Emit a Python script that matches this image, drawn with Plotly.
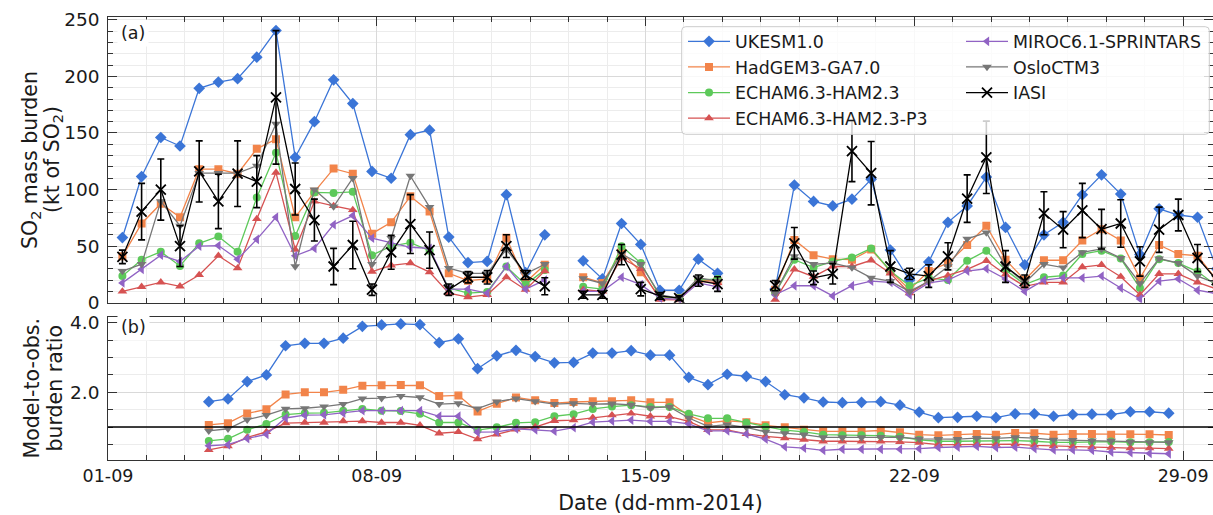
import plotly.graph_objects as go
import pandas as pd

# ---------------- data ----------------
times_a = pd.date_range("2014-09-01 09:00", periods=58, freq="12h")   # panel (a) sampling
times_b = pd.date_range("2014-09-03 15:00", periods=51, freq="12h")   # panel (b) sampling
N = None

ukesm_a = [57.6, 111.5, 146, 138.5, 189.5, 195, 198, 217, 240.5, 128.5,
           160, 197, 176, 116, 110, 148.5, 152.5, 58, 35.5, 36.5,
           95.5, 26.5, 60, N, 37, 21, 70, 51.5, 11, 11,
           38.5, 26, N, N, 12, 104, 89.5, 85.5, 91.5, 109,
           46.5, 20, 36, 71, 85.5, 111, 66.5, 33.5, 60, 71,
           95.5, 113, 96, 42.5, 83, 77.5, 75.5, 30]
hadgem_a = [41, 70, 87.5, 75.5, 118, 118, 114, 136, 144.5, 75.5,
            98, 118.5, 114, 61, 71, 94, 80.5, 26, 19.5, 21,
            57.5, 18, 33.5, N, 22.5, 17.5, 45, 27, 5, 4,
            20, 19, N, N, 11.5, 55.5, 42, 38.5, 38, 47,
            28, 11.5, 28, 35, 51, 68, 38, 20, 37.5, 37.5,
            55, 65, 55, 21.5, 51, 43, 41.5, 20]
echam_a = [23.5, 38, 45, 32.5, 52.5, 58.5, 45, 93, 132.5, 59,
           97.5, 97, 98, 42, 50, 53, 46, 13, 8.5, 9.5,
           32, 16, 29, N, 14, 12, 50, 35, 5.5, 4,
           20, 21, N, N, 8.5, 38, 31, 36.5, 40, 48,
           28, 15, 22, 20, 37, 46, 29, 16, 22.5, 24,
           43, 46, 39, 13, 38.5, 35, 27.5, 15]
echamp3_a = [10, 14, 18, 14.5, 24.5, 41.5, 30.5, 74, 115, 47,
             89.5, 85.5, 82, 27.5, 33, 35, 27, 8.5, 5, 7,
             22.5, 11.5, 28, N, 11.5, 10, 39.5, 30, 2.7, 2.5,
             19, 17.5, N, N, 2.7, 29.5, 23, 32, 32, 37.5,
             26, 8.5, 19, 24, 29.5, 37, 25, 14.5, 18, 18,
             31.5, 33.5, 23, 7, 25.5, 25.5, 18, 12]
miroc_a = [17.5, 29.5, 42, 36.5, 50, 50.5, 38.5, 56, 75.5, 41.5,
           48, 69, 77, 57, 53, 49, 48, 12, 12, 8.5,
           32, 12, 20, N, 10, 10, 22.5, 16, 4, 3,
           17.5, 14, N, N, 7, 15, 15, 6, 15, 19,
           18, 7, 17.5, 20, 28, 30, 21, 10, 20, 22,
           22, 23.5, 13, 3.3, 19, 21, 11, 8]
oslo_a = [28, 34, 89.5, 68, 114.5, 114.5, 114.5, 121, 158, 32,
          100, 85, 110, 34, 57, 112, 84.5, 30.5, 26, 26,
          47, 25.5, 34, N, 21.5, 17, 43, 34, 7, 4,
          22, 19, N, N, 8.5, 41, 34, 35, 31, 22,
          19, 10, 19, 32, 56.5, 62, 32, 17.5, 34, 31,
          44.5, 47.5, 39.5, 17, 39, 35, 23.5, 17]
iasi_a = [40.5, 80.5, 100, 50, 116, 89.5, 114, 107, 181.5, 100.5,
          73, 32, 51, 11.5, 44.5, 69.5, 46.5, 11.5, 22.5, 22.5,
          50, 24.5, 14.5, N, 7, 7, 42.5, 12, 6, 4,
          19.5, 16.5, N, N, 15, 52.5, 22, 25.5, 134, 114.5,
          32, 25.5, 23.5, 41, 92, 128.5, 32, 19, 79, 64.5,
          81.5, 65, 70, 36.5, 64.5, 77.5, 39.5, 20]
iasi_err = [6, 25, 27, 18, 27, 24, 29, 23, 59, 23,
            18.5, 16, 21, 5, 15, 26, 16, 5, 5, 6,
            10, 4, 7.5, N, 3, 3, 9, 6, 3, 2,
            5, 6.5, N, N, 4.5, 14, 6, 9, 27, 28,
            14, 5, 10, 12, 21, 32, 14, 5.5, 19, 16,
            24, 17.5, 21, 13, 20, 14, 12, 8]

ukesm_b = [1.73, 1.81, 2.31, 2.5, 3.34, 3.41, 3.41, 3.56, 3.90, 3.94,
           3.97, 3.95, 3.43, 3.54, 2.68, 3.05, 3.21, 3.03, 2.85, 2.86,
           3.13, 3.13, 3.20, 3.07, 3.07, 2.43, 2.22, 2.52, 2.46, 2.31,
           1.93, 1.84, 1.72, 1.70, 1.71, 1.73, 1.63, 1.43, 1.27, 1.28,
           1.31, 1.27, 1.38, 1.38, 1.31, 1.36, 1.37, 1.36, 1.44, 1.44, 1.40]
hadgem_b = [1.06, 1.11, 1.39, 1.51, 1.94, 2.0, 2.0, 2.07, 2.19, 2.20,
            2.21, 2.20, 1.89, 1.91, 1.45, 1.67, 1.85, 1.77, 1.69, 1.72,
            1.74, 1.74, 1.77, 1.71, 1.71, 1.33, 1.12, 1.18, 1.14, 1.05,
            0.99, 0.92, 0.875, 0.875, 0.875, 0.90, 0.85, 0.78, 0.76, 0.77,
            0.80, 0.78, 0.83, 0.82, 0.78, 0.80, 0.80, 0.78, 0.79, 0.79, 0.77]
echam_b = [0.60, 0.66, 0.92, 1.09, 1.36, 1.40, 1.41, 1.47, 1.52, 1.47,
           1.46, 1.38, 1.13, 1.13, 0.91, 0.99, 1.12, 1.14, 1.31, 1.37,
           1.52, 1.59, 1.63, 1.58, 1.58, 1.38, 1.25, 1.25, 1.12, 1.01,
           0.91, 0.86, 0.78, 0.76, 0.76, 0.75, 0.72, 0.63, 0.59, 0.59,
           0.60, 0.59, 0.61, 0.59, 0.56, 0.56, 0.57, 0.58, 0.56, 0.56, 0.57]
echamp3_b = [0.34, 0.45, 0.70, 0.86, 1.11, 1.13, 1.13, 1.17, 1.17, 1.13,
             1.13, 1.05, 0.82, 0.86, 0.65, 0.79, 0.93, 1.0, 1.18, 1.20,
             1.27, 1.34, 1.39, 1.31, 1.30, 1.16, 0.92, 0.92, 0.80, 0.73,
             0.68, 0.64, 0.59, 0.59, 0.59, 0.59, 0.57, 0.55, 0.49, 0.49,
             0.50, 0.49, 0.51, 0.47, 0.45, 0.44, 0.42, 0.41, 0.39, 0.39, 0.38]
miroc_b = [0.46, 0.49, 0.67, 0.79, 1.26, 1.34, 1.35, 1.40, 1.47, 1.47,
           1.47, 1.47, 1.31, 1.31, 0.85, 0.86, 0.95, 0.92, 0.88, 0.98,
           1.14, 1.17, 1.20, 1.16, 1.16, 1.09, 0.89, 0.89, 0.80, 0.65,
           0.43, 0.39, 0.33, 0.36, 0.36, 0.36, 0.36, 0.375, 0.41, 0.42,
           0.44, 0.41, 0.42, 0.38, 0.34, 0.34, 0.33, 0.28, 0.26, 0.24, 0.23]
oslo_b = [0.89, 0.95, 1.21, 1.34, 1.52, 1.54, 1.59, 1.66, 1.82, 1.83,
          1.89, 1.85, 1.66, 1.68, 1.53, 1.73, 1.82, 1.74, 1.66, 1.68,
          1.66, 1.67, 1.64, 1.55, 1.58, 1.26, 1.02, 1.07, 0.99, 0.86,
          0.82, 0.78, 0.70, 0.70, 0.70, 0.71, 0.70, 0.66, 0.65, 0.65,
          0.68, 0.67, 0.70, 0.68, 0.63, 0.62, 0.61, 0.60, 0.57, 0.56, 0.56]

models = ["UKESM1.0", "HadGEM3-GA7.0", "ECHAM6.3-HAM2.3", "ECHAM6.3-HAM2.3-P3",
          "MIROC6.1-SPRINTARS", "OsloCTM3"]
obs_name = "IASI"
tick_dates = ["2014-09-01", "2014-09-08", "2014-09-15", "2014-09-22", "2014-09-29"]
ytitle_a = ["SO<sub>2</sub> mass burden", "(kt of SO<sub>2</sub>)"]
ytitle_b = ["Model-to-obs.", "burden ratio"]

# ---------------- styles ----------------
colors = ["#3b75d7", "#f2844a", "#5dc95a", "#d65252", "#9163c4", "#777777"]
symbols = ["diamond", "square", "circle", "triangle-up", "triangle-left", "triangle-down"]
sizes = [9, 8, 8, 8.5, 8.5, 8.5]
legend_of = ["legend", "legend", "legend", "legend", "legend2", "legend2"]
FONT = "DejaVu Sans"
TXT = "#1a1a1a"

W, H = 1213, 515
ML, MR, MT, MB = 108, 0, 17, 55
PW, PH = W - ML - MR, H - MT - MB


def px_x(px):
    return (px - ML) / PW


def px_y(py):
    return (H - MB - py) / PH


fig = go.Figure()
series_a = [ukesm_a, hadgem_a, echam_a, echamp3_a, miroc_a, oslo_a]
series_b = [ukesm_b, hadgem_b, echam_b, echamp3_b, miroc_b, oslo_b]

for i, name in enumerate(models):
    fig.add_trace(go.Scatter(
        x=times_a, y=series_a[i], name=name, mode="lines+markers",
        line=dict(color=colors[i], width=1.3),
        marker=dict(symbol=symbols[i], size=sizes[i], color=colors[i]),
        xaxis="x2", yaxis="y2", legend=legend_of[i]))

fig.add_trace(go.Scatter(
    x=times_a, y=iasi_a, name=obs_name, mode="lines+markers",
    line=dict(color="black", width=1.3),
    marker=dict(symbol="x-thin", size=10, color="black",
                line=dict(color="black", width=1.8)),
    error_y=dict(type="data", array=iasi_err, color="black", thickness=1.6, width=3.5),
    xaxis="x2", yaxis="y2", legend="legend2"))

for i, name in enumerate(models):
    fig.add_trace(go.Scatter(
        x=times_b, y=series_b[i], name=name, mode="lines+markers",
        line=dict(color=colors[i], width=1.3),
        marker=dict(symbol=symbols[i], size=sizes[i], color=colors[i]),
        xaxis="x", yaxis="y", showlegend=False))

x_range = ["2014-09-01 00:00", "2014-09-29 18:40"]
DAY = 86400000
frame = "#333333"

xcommon = dict(
    type="date", range=x_range, tickmode="array", tickvals=tick_dates,
    tickformat="%d-%m", ticks="inside", ticklen=9, tickwidth=1.2, tickcolor=frame,
    showline=True, linecolor=frame, linewidth=1.2, mirror="allticks",
    showgrid=True, gridcolor="#d9d9d9", gridwidth=1,
    minor=dict(dtick=DAY, tick0="2014-09-01", ticks="inside", ticklen=5,
               tickwidth=1, tickcolor=frame, showgrid=True, gridcolor="#ececec"),
    tickfont=dict(family=FONT, size=17.5, color=TXT), zeroline=False)

ycommon = dict(
    ticks="inside", ticklen=9, tickwidth=1.2, tickcolor=frame,
    showline=True, linecolor=frame, linewidth=1.2, mirror="allticks",
    showgrid=True, gridcolor="#d9d9d9", gridwidth=1, zeroline=False,
    ticksuffix="\u2009",
    tickfont=dict(family=FONT, size=18.5, color=TXT))

top_dom = [px_y(302.7), 1.0]
bot_dom = [0.0, px_y(317.3)]

fig.update_layout(
    width=W, height=H, margin=dict(l=ML, r=MR, t=MT, b=MB),
    paper_bgcolor="white", plot_bgcolor="white",
    font=dict(family=FONT, color=TXT),
    xaxis=dict(**xcommon, domain=[0, 1], anchor="y",
               title=dict(text="Date (dd-mm-2014)", font=dict(family=FONT, size=20.5, color=TXT),
                          standoff=13)),
    xaxis2=dict(**xcommon, domain=[0, 1], anchor="y2", showticklabels=False, matches="x"),
    yaxis=dict(**ycommon, domain=bot_dom, anchor="x", range=[0.05, 4.16],
               tick0=0, dtick=2, tickformat=".1f",
               minor=dict(dtick=0.5, tick0=0, ticks="inside", ticklen=5, tickwidth=1,
                          tickcolor=frame, showgrid=True, gridcolor="#ececec")),
    yaxis2=dict(**ycommon, domain=top_dom, anchor="x2", range=[0, 252.5],
                tick0=0, dtick=50,
                minor=dict(dtick=10, tick0=0, ticks="inside", ticklen=5, tickwidth=1,
                           tickcolor=frame, showgrid=True, gridcolor="#ececec")),
    legend=dict(x=px_x(683), y=px_y(23.5), xanchor="left", yanchor="top",
                bgcolor="rgba(0,0,0,0)", borderwidth=0, itemwidth=42,
                font=dict(family=FONT, size=17.4, color=TXT), tracegroupgap=0),
    legend2=dict(x=px_x(961), y=px_y(23.5), xanchor="left", yanchor="top",
                 bgcolor="rgba(0,0,0,0)", borderwidth=0, itemwidth=42,
                 font=dict(family=FONT, size=17.4, color=TXT), tracegroupgap=0),
    showlegend=True,
)

# reference line at ratio 1
fig.add_shape(type="line", xref="x domain", yref="y", x0=0, x1=1, y0=1, y1=1,
              line=dict(color="black", width=1.5), layer="above")

# legend frame (rounded)
bx0, bx1 = px_x(681.7), px_x(1209.3)
by0, by1 = px_y(134.3), px_y(26.7)
rx, ry = 4 / PW, 4 / PH
path = (f"M{bx0+rx},{by1} L{bx1-rx},{by1} Q{bx1},{by1} {bx1},{by1-ry} "
        f"L{bx1},{by0+ry} Q{bx1},{by0} {bx1-rx},{by0} L{bx0+rx},{by0} "
        f"Q{bx0},{by0} {bx0},{by0+ry} L{bx0},{by1-ry} Q{bx0},{by1} {bx0+rx},{by1} Z")
fig.add_shape(type="path", path=path, xref="paper", yref="paper",
              fillcolor="rgba(255,255,255,0.8)", line=dict(color="#cccccc", width=1),
              layer="above")

# panel labels
for lab, cy in [("(a)", 33), ("(b)", 327)]:
    fig.add_annotation(text=lab, xref="paper", yref="paper", x=px_x(133), y=px_y(cy),
                       xanchor="center", yanchor="middle", showarrow=False,
                       font=dict(family=FONT, size=17.5, color=TXT),
                       bgcolor="white", borderpad=3)

# y-axis titles (one annotation per line for matplotlib-like line spacing)
for txt, cx in zip(ytitle_a, [31, 53]):
    fig.add_annotation(text=txt, xref="paper", yref="paper", x=px_x(cx), y=px_y(160),
                       xanchor="center", yanchor="middle", textangle=-90, showarrow=False,
                       font=dict(family=FONT, size=20.5, color=TXT))
for txt, cx in zip(ytitle_b, [31, 54]):
    fig.add_annotation(text=txt, xref="paper", yref="paper", x=px_x(cx), y=px_y(388.5),
                       xanchor="center", yanchor="middle", textangle=-90, showarrow=False,
                       font=dict(family=FONT, size=20.5, color=TXT))

fig.write_html("out.html")
